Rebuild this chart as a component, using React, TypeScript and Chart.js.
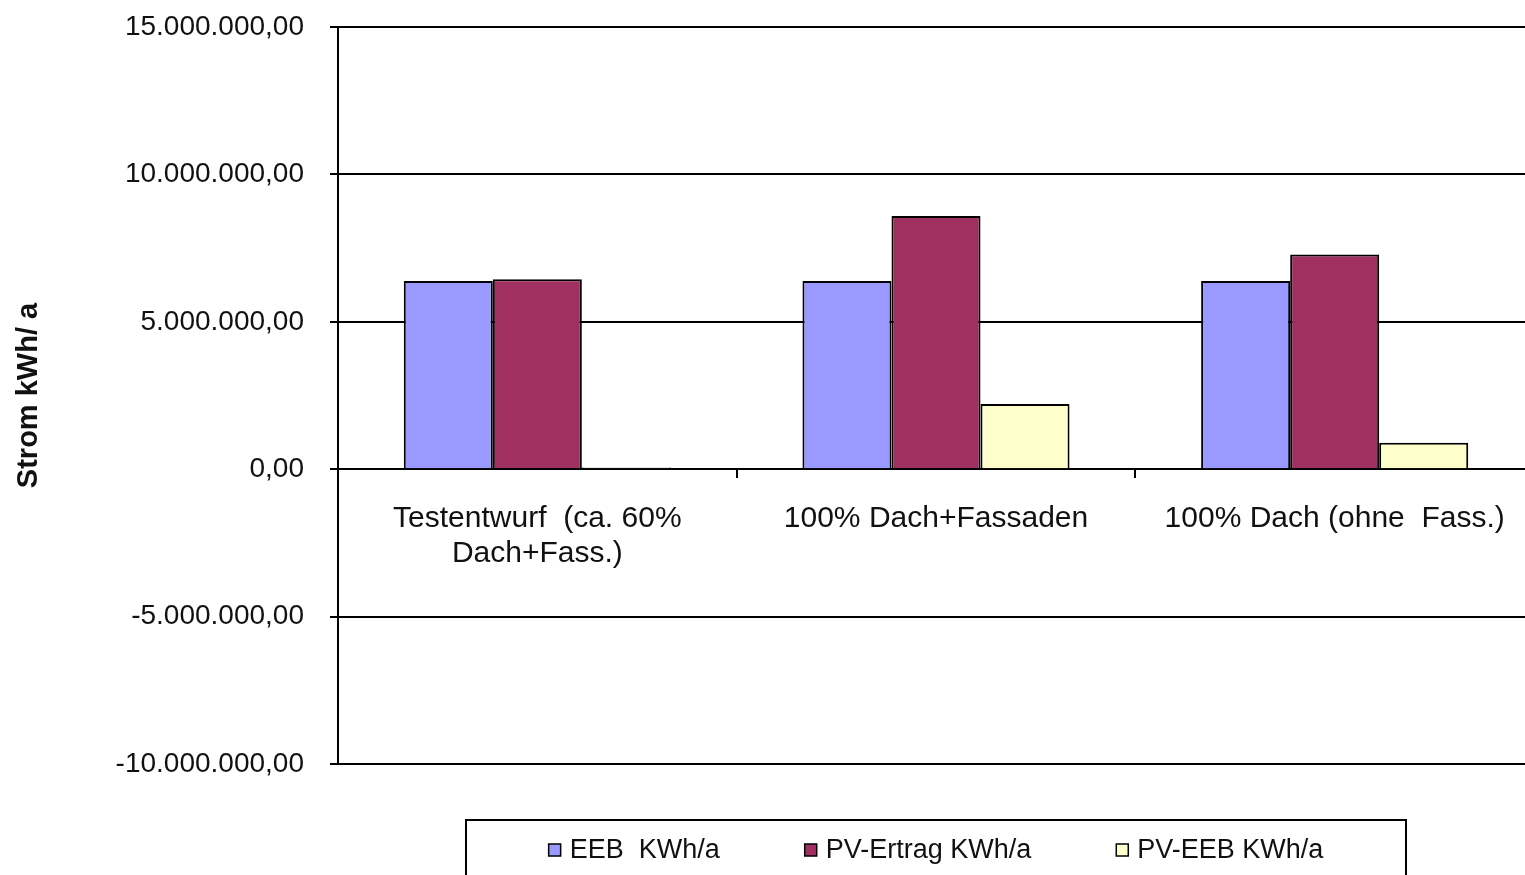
import React, { useEffect, useRef } from "react";
import { Chart, registerables, Plugin } from "chart.js";

Chart.register(...registerables);

// Categories (multi-line where the label wraps)
const categories: (string | string[])[] = [
  ["Testentwurf  (ca. 60%", "Dach+Fass.)"],
  "100% Dach+Fassaden",
  "100% Dach (ohne  Fass.)",
];

// Series values in kWh/a
const eebValues = [6380000, 6380000, 6380000];
const pvErtragValues = [6440000, 8590000, 7280000];
const pvMinusEebValues = [60000, 2210000, 900000];

const seriesLabels = ["EEB  KWh/a", "PV-Ertrag KWh/a", "PV-EEB KWh/a"];
const seriesColors = ["#9999FF", "#A0305F", "#FFFFCC"];

// Y axis ticks
const yTickValues = [-10000000, -5000000, 0, 5000000, 10000000, 15000000];
const yTickLabels = [
  "-10.000.000,00",
  "-5.000.000,00",
  "0,00",
  "5.000.000,00",
  "10.000.000,00",
  "15.000.000,00",
];

const FONT = '"Liberation Sans", Arial, sans-serif';

// Boxed legend drawn below the plot, centred on the chart area
const boxedLegend: Plugin<"bar"> = {
  id: "boxedLegend",
  afterDraw(chart) {
    const { ctx, chartArea } = chart;
    const datasets = chart.data.datasets;
    ctx.save();
    ctx.font = `27px ${FONT}`;
    ctx.textBaseline = "middle";
    ctx.textAlign = "left";
    const marker = 12;
    const markerGap = 9;
    const itemGap = 85;
    const widths = datasets.map(
      (ds) => marker + markerGap + ctx.measureText(String(ds.label)).width
    );
    const total = widths.reduce((a, b) => a + b, 0) + itemGap * (widths.length - 1);
    const cx = (chartArea.left + chartArea.right) / 2;
    const boxW = 940;
    const boxTop = 820;
    const boxH = 62;
    ctx.strokeStyle = "#000";
    ctx.lineWidth = 2;
    ctx.strokeRect(cx - boxW / 2, boxTop, boxW, boxH);

    const cy = 850;
    let x = cx - total / 2;
    datasets.forEach((ds, i) => {
      ctx.fillStyle = ds.backgroundColor as string;
      ctx.fillRect(x, cy - marker / 2, marker, marker);
      ctx.strokeStyle = "#000";
      ctx.lineWidth = 1.5;
      ctx.strokeRect(x, cy - marker / 2, marker, marker);
      ctx.fillStyle = "#111";
      ctx.fillText(String(ds.label), x + marker + markerGap, cy + 1);
      x += widths[i] + itemGap;
    });
    ctx.restore();
  },
};

export default function App() {
  const canvasRef = useRef<HTMLCanvasElement | null>(null);

  useEffect(() => {
    const canvas = canvasRef.current;
    if (!canvas) return;
    const chart = new Chart(canvas, {
      type: "bar",
      data: {
        labels: categories,
        datasets: [
          {
            label: seriesLabels[0],
            data: eebValues,
            backgroundColor: seriesColors[0],
          },
          {
            label: seriesLabels[1],
            data: pvErtragValues,
            backgroundColor: seriesColors[1],
          },
          {
            label: seriesLabels[2],
            data: pvMinusEebValues,
            backgroundColor: seriesColors[2],
          },
        ].map((ds) => ({
          ...ds,
          borderColor: "#000",
          borderWidth: 2,
          categoryPercentage: 0.67,
          barPercentage: 1.0,
        })),
      },
      options: {
        responsive: false,
        animation: false,
        layout: { padding: { left: 0, top: 27, right: 1, bottom: 111 } },
        plugins: {
          legend: { display: false },
          tooltip: { enabled: false },
        },
        scales: {
          x: {
            type: "category",
            position: { y: 0 },
            offset: true,
            grid: {
              display: true,
              drawOnChartArea: false,
              drawTicks: true,
              tickLength: 8,
              color: "#000",
              lineWidth: 2,
              offset: true,
            },
            border: { display: true, color: "#000", width: 2 },
            ticks: {
              color: "#111",
              font: { family: FONT, size: 30, lineHeight: "35px" },
              padding: 24,
              maxRotation: 0,
              minRotation: 0,
              autoSkip: false,
            },
          },
          y: {
            type: "linear",
            min: -10000000,
            max: 15000000,
            afterFit(scale) {
              scale.width = 338;
              // plot edges are set by the layout padding alone
              scale.paddingTop = 0;
              scale.paddingBottom = 0;
            },
            afterBuildTicks(scale) {
              scale.ticks = yTickValues.map((v) => ({ value: v }));
            },
            grid: {
              color: "#000",
              lineWidth: 2,
              drawTicks: true,
              tickLength: 8,
            },
            border: { display: true, color: "#000", width: 2 },
            ticks: {
              color: "#111",
              font: { family: FONT, size: 28 },
              padding: 26,
              callback: (value) => {
                const i = yTickValues.indexOf(Number(value));
                return i >= 0 ? yTickLabels[i] : "";
              },
            },
            title: {
              display: true,
              text: "Strom kWh/ a",
              color: "#111",
              font: { family: FONT, size: 29, weight: "bold" },
              padding: { top: 12, bottom: 0 },
            },
          },
        },
      },
      plugins: [boxedLegend],
    });
    return () => chart.destroy();
  }, []);

  return (
    <div
      style={{
        position: "fixed",
        left: 0,
        top: 0,
        width: 1525,
        height: 875,
        overflow: "hidden",
        background: "#fff",
      }}
    >
      <canvas ref={canvasRef} width={1535} height={875} style={{ display: "block" }} />
    </div>
  );
}
